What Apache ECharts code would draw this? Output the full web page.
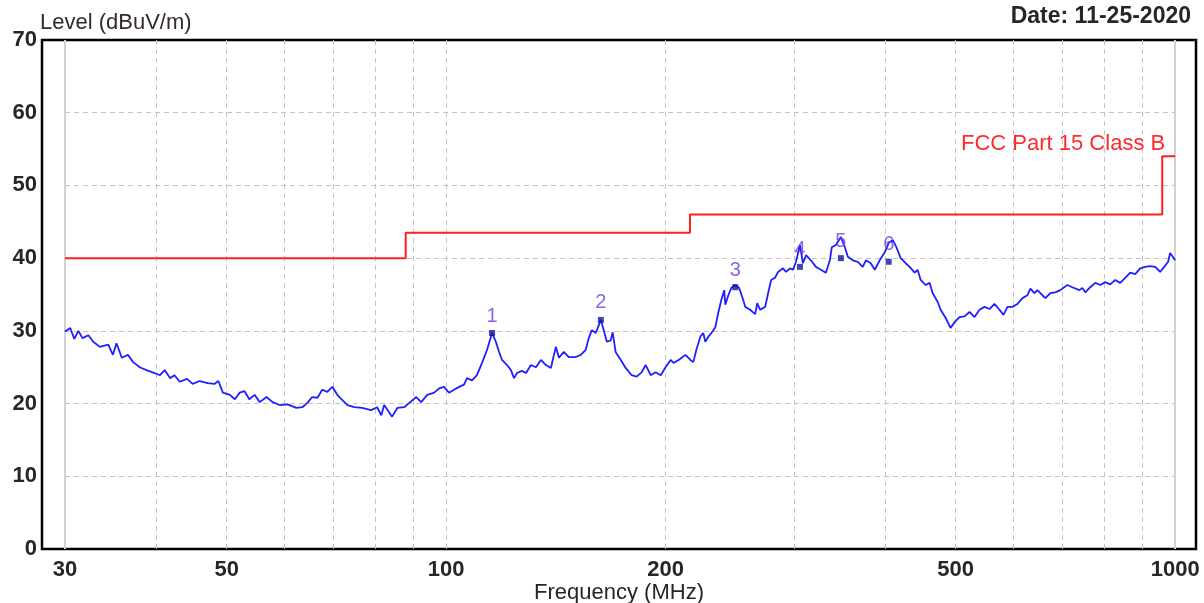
<!DOCTYPE html>
<html>
<head>
<meta charset="utf-8">
<script src="https://cdn.jsdelivr.net/npm/echarts@6/dist/echarts.min.js"></script>
<style>
html,body{margin:0;padding:0;background:#fff;}
#chart{width:1204px;height:603px;}
</style>
</head>
<body>
<div id="chart"></div>
<script>
// Measured trace: frequency (MHz) and level (dBuV/m)
const traceFreq = [30.0,30.5,30.9,31.3,31.7,32.3,32.8,33.5,34.4,34.9,35.3,35.9,36.6,37.2,38.0,38.8,39.8,40.5,41.1,41.8,42.4,43.1,44.1,44.9,45.9,47.1,48.1,48.7,49.4,50.5,51.3,52.1,52.9,53.7,54.6,55.5,56.7,57.8,59.1,60.6,62.3,63.5,64.5,65.5,66.6,67.6,68.7,69.8,70.9,72.0,73.2,74.8,76.7,78.9,80.4,81.5,82.2,83.5,84.3,85.7,87.6,89.0,91.0,92.4,94.2,96.3,97.8,99.3,100.9,102.5,104.2,105.8,106.8,108.5,110.2,112.0,113.8,115.6,117.0,118.2,119.3,121.2,122.7,123.9,125.1,127.0,128.7,130.7,132.8,134.9,137.0,139.2,141.4,142.8,145.0,147.3,150.6,153.0,155.4,156.9,158.4,160.4,163.0,164.5,166.1,168.2,169.2,170.8,173.6,176.3,179.7,182.5,185.4,187.8,190.8,193.8,196.9,200.0,203.2,205.1,208.4,212.9,216.3,218.3,220.4,223.2,225.3,226.7,228.9,231.1,234.0,236.2,238.4,240.7,241.5,243.8,246.1,249.2,252.3,254.7,257.2,261.2,265.4,267.1,269.6,273.9,276.5,279.1,282.6,285.3,289.8,292.6,296.2,299.1,301.9,305.7,308.6,311.6,316.5,321.5,326.6,331.8,336.0,338.1,342.4,347.9,352.3,355.6,361.3,367.0,372.8,376.4,382.3,387.2,393.3,399.6,404.6,409.8,415.0,420.2,426.9,432.3,439.2,443.3,447.6,454.7,460.4,464.8,472.2,476.7,484.2,491.9,498.2,506.1,514.1,522.3,530.6,539.0,547.6,556.3,565.1,574.1,581.4,588.8,598.1,607.6,617.3,627.1,633.0,641.1,647.1,657.4,663.7,674.2,684.9,695.8,711.3,722.6,738.7,745.8,752.9,764.8,777.0,789.3,801.9,814.6,827.5,840.7,854.0,867.6,881.4,895.4,909.6,924.1,938.8,953.7,965.8,978.0,984.2,1000];
const traceLevel = [29.9,30.4,28.9,30.0,29.0,29.4,28.5,27.8,28.1,26.7,28.3,26.3,26.7,25.7,25.0,24.6,24.2,23.9,24.6,23.5,23.9,23.0,23.4,22.7,23.1,22.8,22.7,23.1,21.5,21.2,20.6,21.5,21.7,20.6,21.2,20.2,20.9,20.2,19.8,19.9,19.4,19.5,20.1,20.9,20.8,21.9,21.6,22.3,21.2,20.5,19.8,19.5,19.4,19.1,19.5,18.4,19.8,18.8,18.2,19.4,19.5,20.1,20.9,20.2,21.2,21.5,22.1,22.3,21.5,21.9,22.3,22.6,23.5,23.2,23.9,25.6,27.4,29.7,28.5,27.1,26.0,25.3,24.6,23.5,24.2,24.5,24.2,25.3,25.0,26.0,25.3,24.9,27.8,26.3,27.1,26.4,26.4,26.7,27.4,29.0,30.1,29.7,31.5,30.1,28.5,28.7,29.8,27.1,26.0,24.9,23.9,23.7,24.3,25.3,23.9,24.3,23.9,25.0,26.0,25.6,26.0,26.7,26.0,25.7,27.4,29.2,29.7,28.5,29.2,29.7,30.5,32.5,34.2,35.6,33.6,34.9,35.9,36.3,35.9,34.7,33.3,32.9,32.3,33.8,32.9,33.3,35.2,37.0,37.3,38.1,38.6,38.1,38.6,38.4,39.5,41.8,39.3,40.4,39.7,38.8,38.4,38.0,39.7,41.5,41.8,42.9,41.5,40.2,39.7,39.5,38.8,39.7,39.3,38.4,39.7,40.8,42.1,42.5,41.4,40.0,39.3,38.8,38.0,38.4,37.0,36.3,36.6,35.2,34.0,32.9,31.8,30.4,31.2,31.9,32.0,32.6,31.9,32.9,33.3,33.0,33.7,32.9,32.2,33.3,33.3,33.7,34.5,34.9,35.8,35.2,35.6,34.9,34.5,35.2,35.3,35.6,36.3,36.0,35.6,35.9,35.3,36.0,36.6,36.3,36.7,36.4,37.0,36.6,37.3,38.0,37.8,38.6,38.8,38.9,38.8,38.1,38.8,39.5,40.7,39.7];

// FCC Part 15 Class B limit (stepped)
const limitFreq = [30, 88, 88, 216, 216, 960, 960, 1000];
const limitLevel = [40, 40, 43.5, 43.5, 46, 46, 54, 54];

// Numbered markers
const markerNames = ['1', '2', '3', '4', '5', '6'];
const markerFreq = [115.6, 163.0, 249.2, 305.7, 347.9, 404.6];
const markerLevel = [29.7, 31.5, 36.0, 38.8, 40.0, 39.5];

// Axis ticks and grid
const xLabelValues = [30, 50, 100, 200, 500, 1000];
const xGridValues = [40, 50, 60, 70, 80, 90, 100, 200, 300, 400, 500, 600, 700, 800, 900];
const xEdgeValues = [30, 1000];
const yGridValues = [10, 20, 30, 40, 50, 60];

const titleText = 'Date: 11-25-2020';
const yName = 'Level (dBuV/m)';
const xName = 'Frequency (MHz)';
const limitName = 'FCC Part 15 Class B';

const FONT = '"Liberation Sans", Arial, sans-serif';
const TXT = '#262626';

const traceData = traceFreq.map((f, i) => [f, traceLevel[i]]);
const limitData = limitFreq.map((f, i) => [f, limitLevel[i]]);
const markerData = markerFreq.map((f, i) => ({ value: [f, markerLevel[i]], name: markerNames[i] }));

const gridLines = []
  .concat(xGridValues.map(v => ({ xAxis: v })))
  .concat(xEdgeValues.map(v => ({ xAxis: v, lineStyle: { type: 'solid', color: '#d2d2d2', width: 2 } })))
  .concat(yGridValues.map(v => [{ coord: [xEdgeValues[0], v] }, { coord: [xEdgeValues[1], v] }]));

const chart = echarts.init(document.getElementById('chart'), null, { renderer: 'canvas' });
chart.setOption({
  animation: false,
  backgroundColor: '#ffffff',
  textStyle: { fontFamily: FONT },
  title: {
    text: titleText, right: 8, top: 0,
    textStyle: { fontFamily: FONT, fontSize: 23, fontWeight: 'bold', color: TXT }
  },
  grid: {
    left: 42, right: 8, top: 40, bottom: 54,
    outerBoundsMode: 'none', containLabel: false,
    show: true, borderColor: '#000', borderWidth: 2.5, backgroundColor: 'transparent'
  },
  xAxis: {
    type: 'log', logBase: 10, min: 27.9, max: 1068,
    axisLine: { show: false }, axisTick: { show: false }, splitLine: { show: false },
    axisLabel: {
      customValues: xLabelValues, margin: 10, fontSize: 22, fontWeight: 'bold', color: TXT,
      fontFamily: FONT, formatter: v => String(Math.round(v))
    },
    name: xName, nameLocation: 'middle', nameGap: 33, nameMoveOverlap: false,
    nameTextStyle: { fontSize: 22, color: TXT, fontFamily: FONT, verticalAlign: 'top' }
  },
  yAxis: {
    type: 'value', min: 0, max: 70, interval: 10,
    axisLine: { show: false }, axisTick: { show: false }, splitLine: { show: false },
    axisLabel: { margin: 5, fontSize: 22, fontWeight: 'bold', color: TXT, fontFamily: FONT },
    name: yName, nameLocation: 'end', nameGap: 17, nameMoveOverlap: false,
    nameTextStyle: { fontSize: 22, color: '#332a2a', fontFamily: FONT, align: 'left', verticalAlign: 'middle', padding: [0, 0, 0, -2] }
  },
  series: [
    {
      name: 'limit', type: 'line', data: limitData, showSymbol: false, silent: true, z: 2,
      lineStyle: { color: '#ff2020', width: 2 },
      endLabel: {
        show: true, formatter: limitName, color: '#ff2a2a', fontSize: 22, fontFamily: FONT,
        align: 'right', verticalAlign: 'middle', distance: 0, offset: [-10, -12]
      },
      markLine: {
        silent: true, symbol: ['none', 'none'], z: 1, animation: false,
        label: { show: false },
        lineStyle: { type: [5, 4], color: '#c4c4c4', width: 1 },
        data: gridLines
      }
    },
    {
      name: 'trace', type: 'line', data: traceData, showSymbol: false, silent: true, z: 3,
      lineStyle: { color: '#1f1fff', width: 1.8 }
    },
    {
      name: 'markers', type: 'scatter', data: markerData, symbol: 'rect', symbolSize: 6, z: 4,
      itemStyle: { color: '#1515a0' },
      label: {
        show: true, position: 'top', distance: 4, formatter: p => p.name,
        color: '#6f3fe0', fontSize: 20, fontFamily: FONT
      }
    }
  ]
});
</script>
</body>
</html>
